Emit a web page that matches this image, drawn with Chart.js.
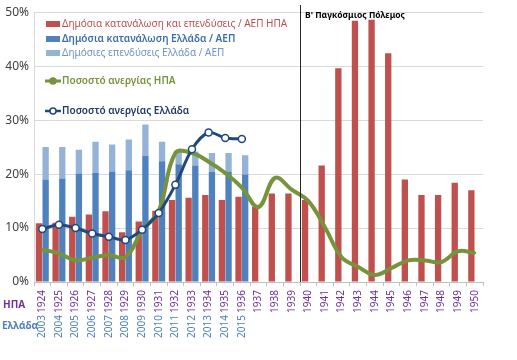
<!DOCTYPE html>
<html>
<head>
<meta charset="utf-8">
<script src="https://cdn.jsdelivr.net/npm/chart.js@4/dist/chart.umd.min.js"></script>
<style>
  html, body { margin: 0; padding: 0; background: #fff; }
  #wrap { width: 517px; height: 360px; position: relative; }
</style>
</head>
<body>
<div id="wrap"><canvas id="chart" width="517" height="360"></canvas></div>
<script>
// Categories: US years (first row) and Greek years (second row)
const usYears = ['1924','1925','1926','1927','1928','1929','1930','1931','1932','1933','1934','1935','1936',
                 '1937','1938','1939','1940','1941','1942','1943','1944','1945','1946','1947','1948','1949','1950'];
const grYears = ['2003','2004','2005','2006','2007','2008','2009','2010','2011','2012','2013','2014','2015'];

// Series values (% of GDP / unemployment rate)
const usSpending = [10.9, 11.0, 12.1, 12.5, 13.1, 9.2, 11.2, 13.2, 15.2, 15.6, 16.1, 15.2, 15.8,
                    13.9, 16.4, 16.4, 15.2, 21.6, 39.6, 48.4, 48.6, 42.4, 19.0, 16.1, 16.1, 18.4, 17.0];
const grConsumption = [19.0, 19.2, 20.1, 20.2, 20.5, 20.7, 23.4, 22.4, 21.8, 21.6, 20.4, 20.5, 19.9];
const grInvestment = [6.0, 5.8, 4.4, 5.8, 5.0, 5.7, 5.8, 3.6, 2.2, 2.6, 3.5, 3.4, 3.6];
const usUnemployment = [6.0, 5.3, 4.0, 4.5, 5.0, 4.6, 9.5, 13.2, 23.9, 23.9, 22.3, 20.2, 17.5,
                        13.9, 19.3, 17.1, 15.0, 10.1, 4.6, 2.8, 1.3, 2.6, 4.0, 4.0, 3.7, 5.7, 5.4];
const grUnemployment = [9.8, 10.6, 10.0, 9.0, 8.4, 7.8, 9.7, 12.8, 18.0, 24.6, 27.7, 26.7, 26.5];

const yTicks = [0, 10, 20, 30, 40, 50];

const FONT = '"Noto Sans", "Liberation Sans", sans-serif';

// pad Greek series to the full category length
function pad(arr, fill) {
    const out = arr.slice();
    while (out.length < usYears.length) out.push(fill);
    return out;
}

// Legend, WWII marker, Greek year row and axis row titles
const decorPlugin = {
    id: 'decor',
    afterDraw(chart) {
        const ctx = chart.ctx;
        const x = chart.scales.x;
        const y = chart.scales.y;
        ctx.save();

        // vertical line between 1939 and 1940
        const lx = (x.getPixelForValue(15) + x.getPixelForValue(16)) / 2;
        ctx.strokeStyle = '#262626';
        ctx.lineWidth = 1;
        ctx.beginPath();
        ctx.moveTo(Math.round(lx) + 0.5, 5);
        ctx.lineTo(Math.round(lx) + 0.5, y.bottom);
        ctx.stroke();
        ctx.fillStyle = '#000';
        ctx.font = 'bold 8.5px ' + FONT;
        ctx.textBaseline = 'middle';
        ctx.fillText("Β' Παγκόσμιος Πόλεμος", lx + 5, 16);

        // legend
        const items = [
            { text: 'Δημόσια κατανάλωση και επενδύσεις / ΑΕΠ ΗΠΑ', color: '#C0504D', kind: 'box', fill: '#C0504D', y: 24, bold: false },
            { text: 'Δημόσια κατανάλωση Ελλάδα / ΑΕΠ', color: '#3C6DB0', kind: 'box', fill: '#4F81BD', y: 39, bold: true },
            { text: 'Δημόσιες επενδύσεις Ελλάδα / ΑΕΠ', color: '#6F93CC', kind: 'box', fill: '#95B3D7', y: 53, bold: false },
            { text: 'Ποσοστό ανεργίας ΗΠΑ', color: '#77933C', kind: 'line', fill: '#77933C', y: 81, bold: true },
            { text: 'Ποσοστό ανεργίας Ελλάδα', color: '#1F3864', kind: 'circle', fill: '#1F497D', y: 111, bold: true }
        ];
        items.forEach(it => {
            if (it.kind === 'box') {
                ctx.fillStyle = it.fill;
                ctx.fillRect(46, it.y - 3, 14, 6);
            } else {
                ctx.strokeStyle = it.fill;
                ctx.lineWidth = it.kind === 'line' ? 3 : 2.5;
                ctx.beginPath();
                ctx.moveTo(45, it.y);
                ctx.lineTo(61, it.y);
                ctx.stroke();
                ctx.beginPath();
                ctx.arc(53, it.y, 3, 0, Math.PI * 2);
                ctx.fillStyle = it.kind === 'line' ? it.fill : '#fff';
                ctx.fill();
                ctx.lineWidth = 1.5;
                ctx.stroke();
            }
            ctx.fillStyle = it.color;
            ctx.font = (it.bold ? '600 ' : '') + '10px ' + FONT;
            ctx.textBaseline = 'middle';
            ctx.fillText(it.text, 62, it.y);
        });

        // second row of year labels (Greece), placed on the same category positions
        ctx.font = '10px ' + FONT;
        ctx.fillStyle = '#4F81BD';
        ctx.textAlign = 'right';
        grYears.forEach((label, i) => {
            ctx.save();
            ctx.translate(x.getPixelForValue(i), 315);
            ctx.rotate(-Math.PI / 2);
            ctx.fillText(label, 0, 0);
            ctx.restore();
        });
        ctx.textAlign = 'left';

        // row titles for the two year rows
        ctx.font = 'bold 10px ' + FONT;
        ctx.fillStyle = '#7030A0';
        ctx.fillText('ΗΠΑ', 3, 305);
        ctx.fillStyle = '#4F81BD';
        ctx.fillText('Ελλάδα', 2, 326);
        ctx.restore();
    }
};

new Chart(document.getElementById('chart'), {
    type: 'bar',
    data: {
        labels: usYears,
        datasets: [
            {
                type: 'line',
                label: 'Ποσοστό ανεργίας Ελλάδα',
                data: pad(grUnemployment, null),
                borderColor: '#1F497D',
                borderWidth: 3,
                pointRadius: 3.5,
                pointBackgroundColor: '#fff',
                pointBorderColor: '#1F497D',
                pointBorderWidth: 1.5,
                tension: 0.3,
                stack: 'l2',
                order: 0
            },
            {
                type: 'line',
                label: 'Ποσοστό ανεργίας ΗΠΑ',
                data: usUnemployment,
                borderColor: '#77933C',
                borderWidth: 4,
                pointRadius: 1.5,
                pointBackgroundColor: '#77933C',
                pointBorderWidth: 0,
                tension: 0.4,
                stack: 'l1',
                order: 1
            },
            {
                label: 'Δημόσια κατανάλωση και επενδύσεις / ΑΕΠ ΗΠΑ',
                data: usSpending,
                backgroundColor: '#C0504D',
                stack: 'us',
                order: 2
            },
            {
                label: 'Δημόσια κατανάλωση Ελλάδα / ΑΕΠ',
                data: pad(grConsumption, null),
                backgroundColor: '#4F81BD',
                stack: 'gr',
                order: 2
            },
            {
                label: 'Δημόσιες επενδύσεις Ελλάδα / ΑΕΠ',
                data: pad(grInvestment, null),
                backgroundColor: '#95B3D7',
                stack: 'gr',
                order: 2
            }
        ]
    },
    options: {
        responsive: false,
        animation: false,
        maintainAspectRatio: false,
        layout: { padding: { top: 4, right: 34, left: 0, bottom: 0 } },
        datasets: { bar: { categoryPercentage: 0.8, barPercentage: 0.95 } },
        plugins: { legend: { display: false }, tooltip: { enabled: false } },
        scales: {
            y: {
                stacked: true,
                min: 0,
                max: 50,
                afterBuildTicks: s => { s.ticks = yTicks.map(v => ({ value: v })); },
                afterFit: s => { s.width = 34; },
                ticks: {
                    callback: v => v + '%',
                    color: '#404040',
                    font: { family: FONT, size: 12 },
                    padding: 5
                },
                grid: { color: '#D9D9D9', drawTicks: false },
                border: { color: '#D9D9D9' }
            },
            x: {
                stacked: true,
                afterFit: s => { s.height = 78; },
                grid: { display: true, drawOnChartArea: false, offset: true, tickLength: 4, color: '#BFBFBF' },
                border: { color: '#BFBFBF' },
                ticks: {
                    autoSkip: false, minRotation: 90, maxRotation: 90,
                    color: '#7030A0',
                    font: { family: FONT, size: 10 },
                    padding: 4
                }
            }
        }
    },
    plugins: [decorPlugin]
});
</script>
</body>
</html>
